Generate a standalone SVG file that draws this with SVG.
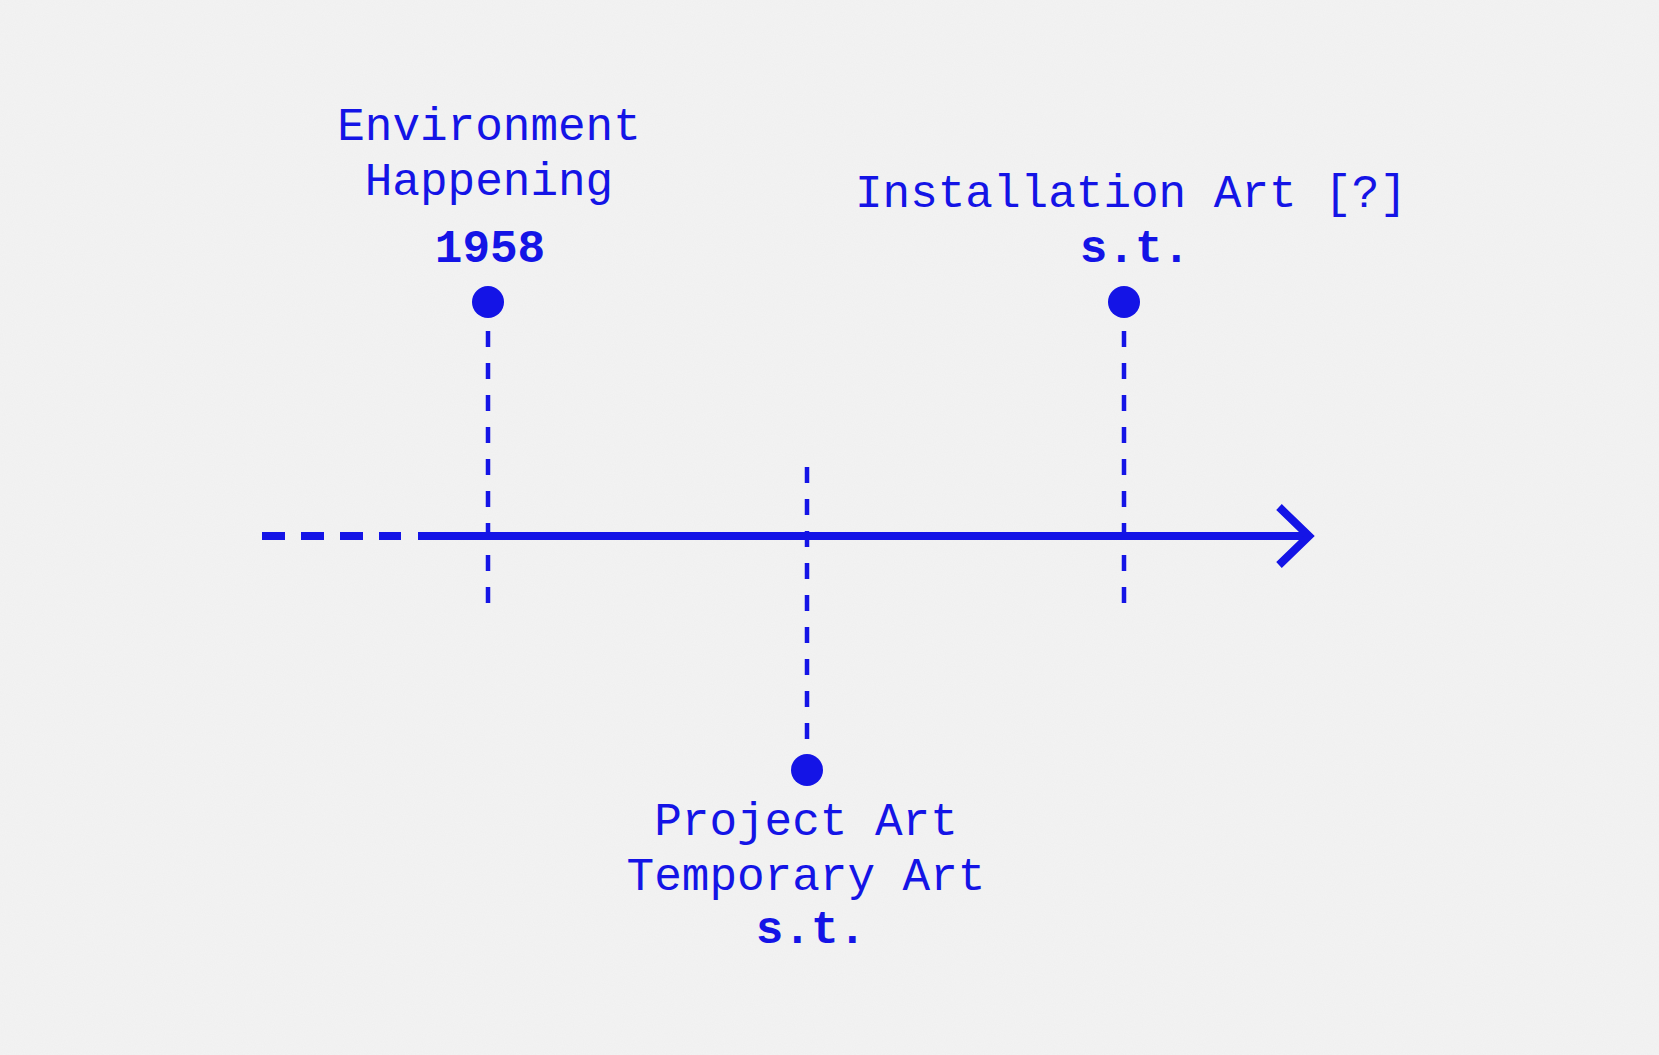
<svg xmlns="http://www.w3.org/2000/svg" width="1659" height="1055" viewBox="0 0 1659 1055">
<defs>
<style>
.t{font-family:"Liberation Mono","Courier New",monospace;font-size:46px;fill:#1414e6;text-anchor:middle}
.b{font-weight:bold}
.dot{fill:#1414e6}
.tick{stroke:#1414e6;stroke-width:4.5;stroke-dasharray:16 16;fill:none}
.axis{stroke:#1414e6;stroke-width:8;fill:none}
</style>
<filter id="grain" x="0" y="0" width="100%" height="100%">
<feTurbulence type="fractalNoise" baseFrequency="0.9" numOctaves="2" seed="3" result="n"/>
<feColorMatrix in="n" type="matrix" values="0 0 0 0 0.6  0 0 0 0 0.6  0 0 0 0 0.6  0 0 0 0.1 0"/>
</filter>
</defs>
<rect width="1659" height="1055" fill="#f3f3f3"/>
<rect width="1659" height="1055" filter="url(#grain)"/>
<g id="connectors">
<line class="axis" x1="262" y1="536" x2="401" y2="536" stroke-dasharray="23 16"/>
<line class="axis" x1="418" y1="536" x2="1308" y2="536"/>
<polyline class="axis" points="1279,507 1309,536 1279,565"/>
<line class="tick" x1="488" y1="331" x2="488" y2="604"/>
<line class="tick" x1="1124" y1="331" x2="1124" y2="604"/>
<line class="tick" x1="807" y1="467" x2="807" y2="740"/>
</g>
<g id="node-1958">
<circle class="dot" cx="488" cy="302" r="16"/>
<text class="t" x="489" y="140">Environment</text>
<text class="t" x="489" y="195">Happening</text>
<text class="t b" x="490" y="262">1958</text>
</g>
<g id="node-installation">
<circle class="dot" cx="1124" cy="302" r="16"/>
<text class="t" x="1131" y="207">Installation Art [?]</text>
<text class="t b" x="1135" y="262">s.t.</text>
</g>
<g id="node-project">
<circle class="dot" cx="807" cy="770" r="16"/>
<text class="t" x="806" y="835">Project Art</text>
<text class="t" x="806" y="890">Temporary Art</text>
<text class="t b" x="811" y="943">s.t.</text>
</g>
</svg>
